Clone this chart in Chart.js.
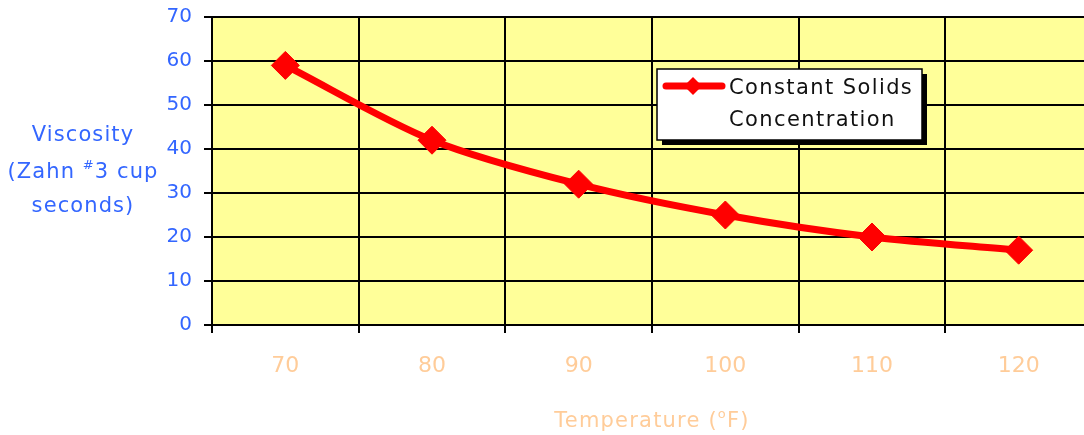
<!DOCTYPE html>
<html>
<head>
<meta charset="utf-8">
<script src="https://cdn.jsdelivr.net/npm/chart.js@4/dist/chart.umd.min.js"></script>
<style>
  html, body { margin: 0; padding: 0; background: #ffffff; overflow: hidden; }
  #wrap { width: 1084px; height: 435px; overflow: hidden; }
</style>
</head>
<body>
<div id="wrap"><canvas id="c" width="1100" height="435"></canvas></div>
<script>
// ---- data ----
const temperatures = ['70', '80', '90', '100', '110', '120'];
const viscosity = [59, 42, 32, 25, 20, 17];
const yTicks = [0, 10, 20, 30, 40, 50, 60, 70];
const seriesLabelLines = ['Constant Solids', 'Concentration'];
const yTitleLines = ['Viscosity', '(Zahn |#|3 cup', 'seconds)'];
const xTitleParts = ['Temperature (', 'o', 'F)'];

const FONT = '"DejaVu Sans", Verdana, sans-serif';
const BLUE = '#3366FF';
const PEACH = '#FFCC99';

function drawRich(ctx, parts, cx, cy, size, color, spacing) {
  ctx.save();
  ctx.letterSpacing = spacing;
  ctx.fillStyle = color;
  ctx.textBaseline = 'middle';
  ctx.textAlign = 'left';
  let total = 0;
  const widths = parts.map(([t, sup]) => {
    ctx.font = (sup ? Math.round(size * 0.62) : size) + 'px ' + FONT;
    const w = ctx.measureText(t).width;
    total += w;
    return w;
  });
  let x = cx - total / 2;
  parts.forEach(([t, sup], i) => {
    ctx.font = (sup ? Math.round(size * 0.62) : size) + 'px ' + FONT;
    ctx.fillText(t, x, sup ? cy - size * 0.33 : cy);
    x += widths[i];
  });
  ctx.restore();
}

const decor = {
  id: 'decor',
  beforeDraw(chart) {
    const { ctx, chartArea: a } = chart;
    ctx.save();
    ctx.fillStyle = '#FFFF99';
    ctx.fillRect(a.left, a.top, a.right - a.left, a.bottom - a.top);
    ctx.restore();
  },
  afterDraw(chart) {
    const ctx = chart.ctx;
    // y title
    const yc = [136, 173, 207];
    yTitleLines.forEach((line, i) => {
      const segs = line.split('|');
      const parts = segs.map((s, k) => [s, k % 2 === 1]).filter(p => p[0].length);
      drawRich(ctx, parts, 83, yc[i], 21, BLUE, '1.1px');
    });
    // x title
    drawRich(ctx, [[xTitleParts[0], false], [xTitleParts[1], true], [xTitleParts[2], false]], 652, 422, 21, PEACH, '1.2px');
    // legend
    const lx = 657, ly = 69, lw = 265, lh = 71;
    ctx.save();
    ctx.fillStyle = '#000';
    ctx.fillRect(lx + 5, ly + 5, lw, lh);
    ctx.fillStyle = '#fff';
    ctx.fillRect(lx, ly, lw, lh);
    ctx.strokeStyle = '#000';
    ctx.lineWidth = 1.5;
    ctx.strokeRect(lx, ly, lw, lh);
    const ds = chart.data.datasets[0];
    ctx.strokeStyle = ds.borderColor;
    ctx.lineWidth = 7;
    ctx.lineCap = 'round';
    ctx.beginPath();
    ctx.moveTo(666, 86);
    ctx.lineTo(722, 86);
    ctx.stroke();
    ctx.fillStyle = ds.borderColor;
    ctx.beginPath();
    ctx.moveTo(693, 77); ctx.lineTo(702, 86); ctx.lineTo(693, 95); ctx.lineTo(684, 86);
    ctx.closePath();
    ctx.fill();
    ctx.fillStyle = '#111';
    ctx.letterSpacing = '1.4px';
    ctx.font = '21px ' + FONT;
    ctx.textBaseline = 'middle';
    ctx.textAlign = 'left';
    ctx.fillText(seriesLabelLines[0], 729, 89);
    ctx.fillText(seriesLabelLines[1], 729, 121);
    ctx.restore();
  }
};

new Chart(document.getElementById('c'), {
  type: 'line',
  data: {
    labels: temperatures,
    datasets: [{
      label: seriesLabelLines.join(' '),
      data: viscosity,
      borderColor: '#FF0000',
      backgroundColor: '#FF0000',
      borderWidth: 7,
      tension: 0.3,
      pointStyle: 'rectRot',
      pointRadius: 14,
      pointHoverRadius: 14,
      pointBorderWidth: 1,
      pointBackgroundColor: '#FF0000',
      pointBorderColor: '#FF0000',
      clip: false
    }]
  },
  options: {
    responsive: false,
    devicePixelRatio: 1,
    animation: false,
    events: [],
    layout: { autoPadding: false, padding: { left: 0, top: 17, right: 8, bottom: 0 } },
    plugins: { legend: { display: false }, tooltip: { enabled: false }, title: { display: false } },
    scales: {
      x: {
        type: 'category',
        offset: true,
        afterFit(s) { s.height = 110; s.paddingLeft = 0; s.paddingRight = 0; },
        grid: { display: true, offset: true, color: '#000', lineWidth: 2, drawTicks: true, tickLength: 8, tickColor: '#000' },
        border: { display: true, color: '#000', width: 2 },
        ticks: { color: PEACH, font: { family: FONT, size: 22 }, padding: 20, maxRotation: 0 }
      },
      y: {
        min: 0, max: 70,
        afterFit(s) { s.width = 212; s.paddingTop = 0; s.paddingBottom = 0; },
        afterBuildTicks(s) { s.ticks = yTicks.map(v => ({ value: v })); },
        grid: { display: true, color: '#000', lineWidth: 2, drawTicks: true, tickLength: 8, tickColor: '#000' },
        border: { display: true, color: '#000', width: 2 },
        ticks: { color: BLUE, font: { family: FONT, size: 20 }, padding: 12 }
      }
    }
  },
  plugins: [decor]
});
</script>
</body>
</html>
